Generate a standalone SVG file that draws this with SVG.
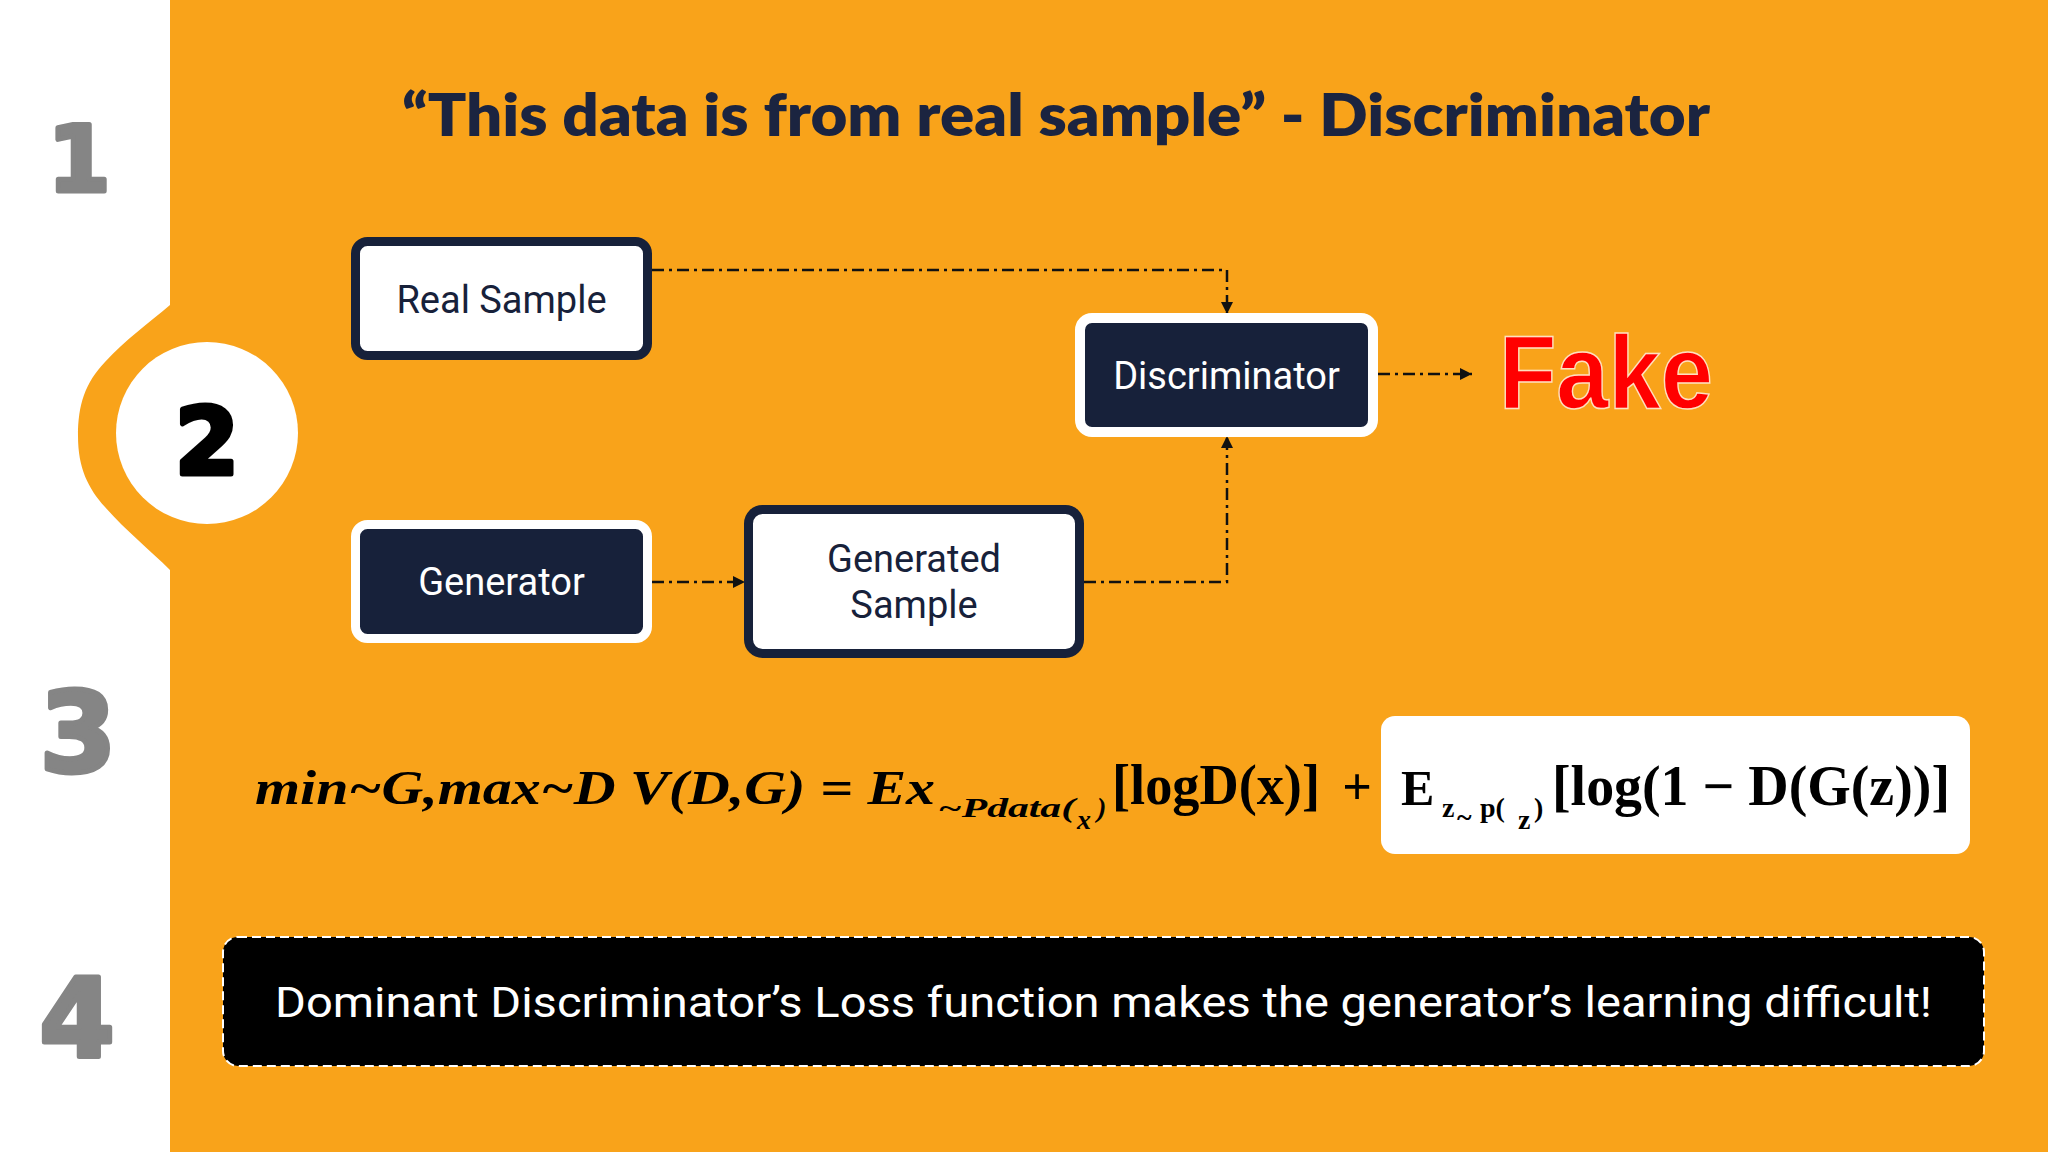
<svg xmlns="http://www.w3.org/2000/svg" width="2048" height="1152" viewBox="0 0 2048 1152">
  <defs>
    <marker id="arrow" markerUnits="userSpaceOnUse" markerWidth="12" markerHeight="12" refX="12" refY="6" orient="auto">
      <path d="M0,0 L12,6 L0,12 Z" fill="#111111"/>
    </marker>
    <style>
      .num { font-family: "DejaVu Sans", "Liberation Sans", sans-serif; font-weight: 900; fill: #858585; stroke: #858585; stroke-width: 5; stroke-linejoin: round; text-anchor: middle; }
      .box-light { fill: #ffffff; stroke: #17213a; stroke-width: 9; }
      .box-dark { fill: #17213a; stroke: #ffffff; stroke-width: 9; }
      .lbl { font-family: Roboto, "Liberation Sans", sans-serif; font-size: 38px; text-anchor: middle; }
      .lbl-dark { fill: #17213a; }
      .lbl-light { fill: #ffffff; }
      .conn { fill: none; stroke: #111111; stroke-width: 2.5; stroke-dasharray: 12 5 3 5; marker-end: url(#arrow); }
      .mi { font-family: "Liberation Serif", "DejaVu Serif", serif; font-style: italic; font-weight: bold; fill: #000; }
      .mb { font-family: "Liberation Serif", "DejaVu Serif", serif; font-weight: bold; fill: #000; }
    </style>
  </defs>

  <!-- background -->
  <rect x="0" y="0" width="2048" height="1152" fill="#ffffff"/>
  <rect x="170" y="0" width="1878" height="1152" fill="#F9A31A"/>
  <path d="M170,305 C150,322 125,340 105,362 C85,383 78,405 78,436 C78,468 88,488 105,507 C125,530 150,550 170,570 Z" fill="#F9A31A"/>

  <!-- step numbers -->
  <g id="step-1"><text class="num" x="79" y="191" font-size="90">1</text></g>
  <g id="step-2">
    <circle cx="207" cy="433" r="91" fill="#ffffff"/>
    <text class="num" x="207" y="474" font-size="92" style="fill:#000000;stroke:#000000">2</text>
  </g>
  <g id="step-3"><text class="num" x="78" y="771" font-size="110">3</text></g>
  <g id="step-4"><text class="num" x="77" y="1056" font-size="108">4</text></g>

  <!-- title -->
  <g id="title">
    <text x="402" y="136" font-family="Lato, 'Open Sans', sans-serif" font-weight="800" font-size="58" fill="#1b2440" textLength="1308" lengthAdjust="spacingAndGlyphs">“This data is from real sample” - Discriminator</text>
  </g>

  <!-- connectors -->
  <g id="connectors">
    <path class="conn" d="M652,270 H1227 V314"/>
    <path class="conn" d="M652,582 H745"/>
    <path class="conn" d="M1084,582 H1227 V436"/>
    <path class="conn" d="M1378,374 H1472"/>
  </g>

  <!-- nodes -->
  <g id="real-sample">
    <rect class="box-light" x="355.5" y="241.5" width="292" height="114" rx="12"/>
    <text class="lbl lbl-dark" x="501.5" y="313">Real Sample</text>
  </g>
  <g id="generator">
    <rect class="box-dark" x="355.5" y="524.5" width="292" height="114" rx="12"/>
    <text class="lbl lbl-light" x="501.5" y="595">Generator</text>
  </g>
  <g id="generated-sample">
    <rect class="box-light" x="748.5" y="509.5" width="331" height="144" rx="14"/>
    <text class="lbl lbl-dark" x="914" y="572">Generated</text>
    <text class="lbl lbl-dark" x="914" y="618">Sample</text>
  </g>
  <g id="discriminator">
    <rect class="box-dark" x="1080" y="318" width="293" height="114" rx="12" style="stroke-width:10"/>
    <text class="lbl lbl-light" x="1226.5" y="389">Discriminator</text>
  </g>
  <g id="fake">
    <text x="1499" y="408" font-family="'Liberation Sans', Arial, sans-serif" font-weight="bold" font-size="104" fill="#ff0000" stroke="#ffe0c0" stroke-width="1.5" textLength="214" lengthAdjust="spacingAndGlyphs">Fake</text>
  </g>

  <!-- equation -->
  <g id="equation">
    <rect x="1381" y="716" width="589" height="138" rx="14" fill="#ffffff"/>
    <text class="mi" x="255" y="804" font-size="48" textLength="680" lengthAdjust="spacingAndGlyphs">min~G,max~D V(D,G) = Ex</text>
    <text class="mi" x="938" y="817" font-size="28" textLength="137" lengthAdjust="spacingAndGlyphs">~Pdata(</text>
    <text class="mi" x="1077" y="829" font-size="28">x</text>
    <text class="mi" x="1097" y="817" font-size="28">)</text>
    <text class="mb" x="1112" y="804" font-size="56" textLength="208" lengthAdjust="spacingAndGlyphs">[logD(x)]</text>
    <text class="mb" x="1357" y="804" font-size="52" text-anchor="middle">+</text>
    <text class="mb" x="1401" y="805" font-size="50">E</text>
    <text class="mb" x="1442" y="817" font-size="28">z</text>
    <text class="mb" x="1457" y="826" font-size="28">~</text>
    <text class="mb" x="1480" y="817" font-size="28">p(</text>
    <text class="mb" x="1518" y="829" font-size="28">z</text>
    <text class="mb" x="1534" y="817" font-size="28">)</text>
    <text class="mb" x="1552" y="805" font-size="56" textLength="398" lengthAdjust="spacingAndGlyphs">[log(1 − D(G(z))]</text>
  </g>

  <!-- conclusion -->
  <g id="conclusion">
    <rect x="223" y="937" width="1761" height="129" rx="15" fill="#000000" stroke="#ffffff" stroke-width="2" stroke-dasharray="9 5"/>
    <text x="275" y="1017" font-family="Roboto, 'Liberation Sans', sans-serif" font-size="42" fill="#ffffff" textLength="1657" lengthAdjust="spacingAndGlyphs">Dominant Discriminator’s Loss function makes the generator’s learning difficult!</text>
  </g>
</svg>
